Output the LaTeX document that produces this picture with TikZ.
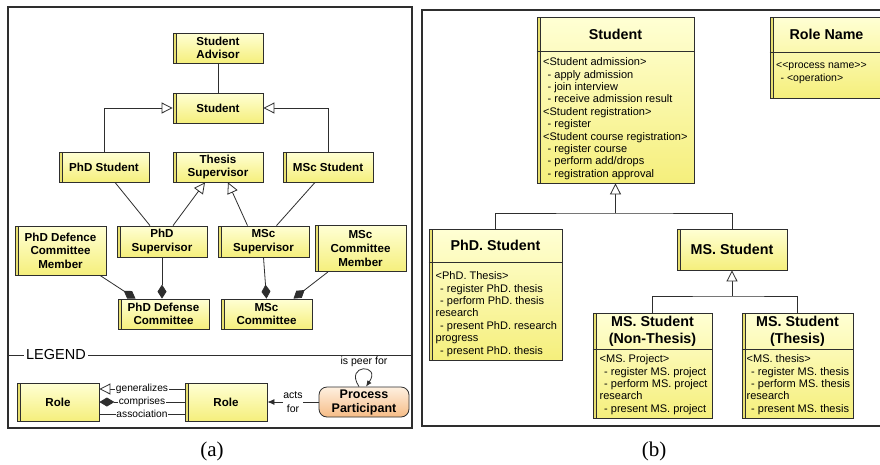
\documentclass[tikz,border=0pt]{standalone}
\usepackage{fontspec}
\setmainfont{Liberation Sans}
\newfontfamily\capfont{Liberation Serif}
\usetikzlibrary{arrows.meta,calc}
\definecolor{ylight}{HTML}{FFFFD4}
\definecolor{ydark}{HTML}{F5EF7C}
\definecolor{ystrip}{HTML}{E8E070}
\definecolor{olight}{HTML}{FEF0E0}
\definecolor{odark}{HTML}{F6BC86}
\definecolor{edge}{HTML}{2E2E2E}
\newcommand\myind{\hspace*{4.5pt}}
\tikzset{
  boxbase/.style={draw=edge, line width=0.8pt, top color=ylight, bottom color=ydark,
    path picture={
      \fill[ystrip] (path picture bounding box.north west) rectangle ([xshift=3pt]path picture bounding box.south west);
      \draw[edge,line width=0.6pt] ([xshift=3pt]path picture bounding box.north west) -- ([xshift=3pt]path picture bounding box.south west);}},
  rolebox/.style={boxbase, inner sep=1pt, align=center,
    font=\bfseries\fontsize{11.6}{13.6}\selectfont, minimum width=90pt, minimum height=30pt},
  classbox/.style={boxbase, inner sep=0pt},
  ctitle/.style={font=\bfseries\fontsize{14.3}{17.5}\selectfont, align=center, inner sep=0pt},
  cbody/.style={font=\fontsize{11}{12.4}\selectfont, align=left, anchor=north west, inner sep=0pt},
  divider/.style={draw=edge, line width=0.8pt},
  conn/.style={draw=edge, line width=0.8pt},
  gen/.style={conn, -{Triangle[open,length=11pt,width=11pt,fill=white]}},
  comp/.style={conn, -{Diamond[length=14pt,width=9pt]}},
  lbl/.style={font=\fontsize{10.2}{12}\selectfont, fill=white, inner sep=0.8pt},
  frame/.style={draw=edge, line width=1.2pt},
  caption/.style={font=\capfont\fontsize{21}{24}\selectfont}
}
\begin{document}
\begin{tikzpicture}[x=1pt,y=-1pt]
\useasboundingbox (0,0) rectangle (880,464);
\fill[white] (0,0) rectangle (880,464);

% ---------------- panel (a) ----------------
\draw[frame] (8,7) rectangle (412,428);

\node[rolebox] (adv) at (218,48) {Student\\Advisor};
\node[rolebox] (stu) at (218,108) {Student};
\node[rolebox] (phd) at (104,167) {PhD Student};
\node[rolebox] (ts) at (218,167) {Thesis\\Supervisor};
\node[rolebox] (msc) at (328,167) {MSc Student};
\node[rolebox, minimum width=91pt, minimum height=49pt] (pdcm) at (60.5,250.5) {PhD Defence\\Committee\\Member};
\node[rolebox, minimum height=31pt] (phdsup) at (162,241.5) {PhD\\Supervisor};
\node[rolebox, minimum width=91pt, minimum height=31pt] (mscsup) at (263.5,241.5) {MSc\\Supervisor};
\node[rolebox, minimum width=91pt, minimum height=46pt] (mcm) at (360.5,248.5) {MSc\\Committee\\Member};
\node[rolebox, minimum width=91pt] (pdc) at (163.5,314) {PhD Defense\\Committee};
\node[rolebox, minimum width=91pt] (mc) at (266.5,314) {MSc\\Committee};

\draw[conn] (adv.south) -- (stu.north);
\draw[gen] (phd.north) |- (stu.west);
\draw[gen] (msc.north) |- (stu.east);
\draw[conn] ([xshift=11pt]phd.south) -- ([xshift=-12pt]phdsup.north);
\draw[gen] ([xshift=11pt]phdsup.north) -- ([xshift=-13pt]ts.south);
\draw[gen] ([xshift=-16pt]mscsup.north) -- ([xshift=10pt]ts.south);
\draw[conn] ([xshift=-13pt]msc.south) -- ([xshift=13pt]mscsup.north);
\draw[comp] ([xshift=39.5pt]pdcm.south) -- ([xshift=-28pt]pdc.north);
\draw[comp] (phdsup.south) -- (phdsup.south |- pdc.north);
\draw[comp] (mscsup.south) -- (mc.north);
\draw[comp] ([xshift=-32.5pt]mcm.south) -- ([xshift=27pt]mc.north);

% legend
\draw[edge, line width=1pt] (8,355) -- (412,355);
\node[fill=white, inner sep=2pt, font=\fontsize{14.5}{16}\selectfont] (leg) at (56,355) {LEGEND};

\node[rolebox, minimum width=82pt, minimum height=38pt] (role1) at (58,402) {Role};
\node[rolebox, minimum width=82pt, minimum height=38pt] (role2) at (226,402) {Role};
\node[draw=edge, line width=0.8pt, rounded corners=8pt, top color=olight, bottom color=odark,
      minimum width=90pt, minimum height=30pt, inner sep=1pt, align=center,
      font=\bfseries\fontsize{12.5}{14}\selectfont] (pp) at (364,402) {Process\\Participant};

\draw[conn, -{Triangle[open,length=11pt,width=11pt,fill=white]}]
  ([yshift=13pt]role2.west) -- node[lbl] {generalizes} ([yshift=13pt]role1.east);
\draw[conn, -{Diamond[length=15pt,width=9pt]}]
  (role2.west) -- node[lbl] {comprises} (role1.east);
\draw[conn]
  ([yshift=-12pt]role2.west) -- node[lbl] {association} ([yshift=-12pt]role1.east);
\draw[conn, -{Latex[length=7pt,width=6pt]}]
  (pp.west) -- node[lbl, align=center, font=\fontsize{10.5}{14}\selectfont] {acts\\for} (role2.east);
\draw[conn, -{Latex[length=6pt,width=5pt]}]
  ([xshift=-5pt]pp.north) .. controls ($(pp.north)+(-20,-23)$) and ($(pp.north)+(18,-23)$) .. ([xshift=2pt]pp.north);
\node[font=\fontsize{10.5}{12}\selectfont, inner sep=0pt] (peer) at (364,362) {is peer for};

\node[caption] (capa) at (212,451) {(a)};

% ---------------- panel (b) ----------------
\draw[frame] (422,10) rectangle (888,426);

% Student
\node[classbox, minimum width=157pt, minimum height=166pt] (stuR) at (615.5,100) {};
\draw[divider] ($(stuR.north west)+(0,35)$) -- ($(stuR.north east)+(0,35)$);
\node[ctitle] (stuRt) at ($(stuR.north)+(0,17.5)$) {Student};
\node[cbody] (stuRb) at (543,57.5) {<Student admission>\\
\myind- apply admission\\
\myind- join interview\\
\myind- receive admission result\\
<Student registration>\\
\myind- register\\
<Student course registration>\\
\myind- register course\\
\myind- perform add/drops\\
\myind- registration approval};

% Role Name
\node[classbox, minimum width=113pt, minimum height=81pt] (roleR) at (826.5,57.5) {};
\draw[divider] ($(roleR.north west)+(0,36)$) -- ($(roleR.north east)+(0,36)$);
\node[ctitle] (roleRt) at ($(roleR.north)+(0,18)$) {Role Name};
\node[cbody, font=\fontsize{10.5}{13}\selectfont] (roleRb) at (776,62.5) {<{}<process name>{}>\\
\myind- <operation>};

% PhD. Student
\node[classbox, minimum width=133pt, minimum height=131pt] (phdR) at (495.5,294.5) {};
\draw[divider] ($(phdR.north west)+(0,34)$) -- ($(phdR.north east)+(0,34)$);
\node[ctitle] (phdRt) at ($(phdR.north)+(0,17)$) {PhD. Student};
\node[cbody] (phdRb) at (435.5,271.5) {<PhD. Thesis>\\
\myind- register PhD. thesis\\
\myind- perform PhD. thesis\\
research\\
\myind- present PhD. research\\
progress\\
\myind- present PhD. thesis};

% MS. Student
\node[classbox, minimum width=110pt, minimum height=41pt] (msR) at (732,249.5) {};
\node[ctitle] (msRt) at (msR.center) {MS. Student};

% MS. Student (Non-Thesis)
\node[classbox, minimum width=119pt, minimum height=105pt] (ntR) at (652.5,365.5) {};
\draw[divider] ($(ntR.north west)+(0,37)$) -- ($(ntR.north east)+(0,37)$);
\node[ctitle] (ntRt) at ($(ntR.north)+(0,18.5)$) {MS. Student\\(Non-Thesis)};
\node[cbody] (ntRb) at (599.5,354.5) {<MS. Project>\\
\myind- register MS. project\\
\myind- perform MS. project\\
research\\
\myind- present MS. project};

% MS. Student (Thesis)
\node[classbox, minimum width=111pt, minimum height=105pt] (thR) at (797.5,365.5) {};
\draw[divider] ($(thR.north west)+(0,37)$) -- ($(thR.north east)+(0,37)$);
\node[ctitle] (thRt) at ($(thR.north)+(0,18.5)$) {MS. Student\\(Thesis)};
\node[cbody] (thRb) at (746.5,354.5) {<MS. thesis>\\
\myind- register MS. thesis\\
\myind- perform MS. thesis\\
research\\
\myind- present MS. thesis};

% generalizations
\coordinate (j1) at (615.5,213);
\draw[gen] (j1) -- (stuR.south);
\draw[conn] (phdR.north) |- (j1) -| (msR.north);
\coordinate (j2) at (732,296);
\draw[gen] (j2) -- (msR.south);
\draw[conn] (ntR.north) |- (j2) -| (thR.north);

\node[caption] (capb) at (654,451) {(b)};
\end{tikzpicture}
\end{document}
